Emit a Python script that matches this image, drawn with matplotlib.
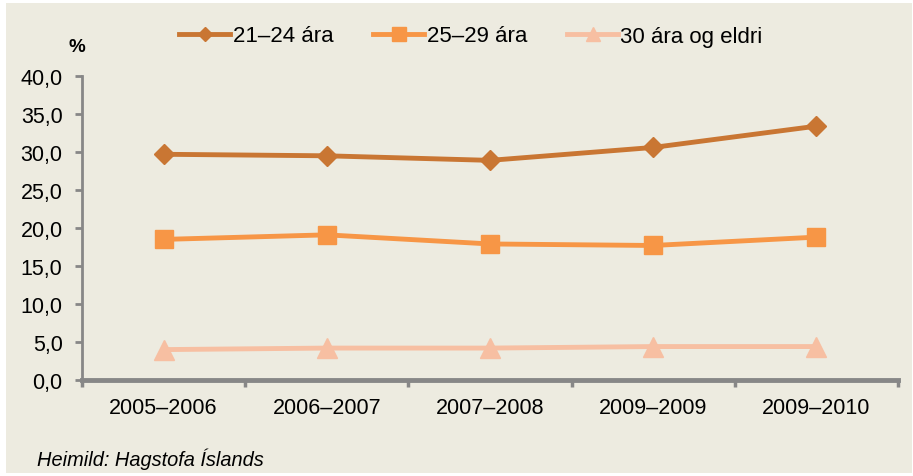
import numpy as np
import matplotlib.pyplot as plt
from matplotlib.patches import Rectangle

plt.rcParams['font.family'] = ['Liberation Sans', 'DejaVu Sans']

# Data
periods = ['2005–2006', '2006–2007', '2007–2008', '2009–2009', '2009–2010']
age_21_24 = [29.7, 29.5, 28.9, 30.6, 33.4]
age_25_29 = [18.5, 19.1, 17.9, 17.7, 18.8]
age_30_plus = [4.0, 4.2, 4.2, 4.4, 4.4]
series_labels = ['21–24 ára', '25–29 ára', '30 ára og eldri']
yticks = np.arange(0, 45, 5)

BG = '#EDEBE0'
AXIS = '#878787'

fig = plt.figure(figsize=(9.13, 4.77), dpi=100)
fig.patch.set_facecolor('white')
fig.patches.append(Rectangle((6 / 913, 3 / 477), 906 / 913, 470 / 477,
                             transform=fig.transFigure, facecolor=BG,
                             edgecolor='none', zorder=-10))

ax = fig.add_axes([82 / 913, 1 - 381 / 477, 816 / 913, 304 / 477])
ax.patch.set_alpha(0)

x = np.arange(len(periods))
ax.plot(x, age_21_24, color='#C97633', lw=3.5, marker='D', ms=10,
        label=series_labels[0], zorder=3, clip_on=False)
ax.plot(x, age_25_29, color='#F79646', lw=3.5, marker='s', ms=13,
        label=series_labels[1], zorder=3, clip_on=False)
ax.plot(x, age_30_plus, color='#F7BFA2', lw=3.5, marker='^', ms=14,
        label=series_labels[2], zorder=3, clip_on=False)

ax.set_xlim(-0.5, len(periods) - 0.5)
ax.set_ylim(0, 40)
ax.set_yticks(yticks)
ax.set_yticklabels([f'{v:.1f}'.replace('.', ',') for v in yticks], fontsize=15.5)

# category labels centred, ticks on the boundaries
ax.set_xticks(x)
ax.set_xticklabels(periods, fontsize=15.5)
ax.tick_params(axis='x', length=0, pad=12)
ax.set_xticks(np.arange(-0.5, len(periods)), minor=True)
ax.tick_params(axis='x', which='minor', length=5, width=2.5, color=AXIS)
ax.tick_params(axis='y', length=5, width=2, color=AXIS, pad=9)

for side in ['top', 'right']:
    ax.spines[side].set_visible(False)
ax.spines['left'].set_color(AXIS)
ax.spines['left'].set_linewidth(2)
ax.spines['bottom'].set_color(AXIS)
ax.spines['bottom'].set_linewidth(3.5)

fig.legend(loc='center', bbox_to_anchor=(471 / 913, 1 - 37 / 477), ncol=3,
           frameon=False, fontsize=16, handlelength=2.3, columnspacing=1.8,
           handletextpad=0.1, markerscale=0.75)

fig.text(77 / 913, 1 - 48 / 477, '%', fontsize=13.5, fontweight='bold',
         ha='center', va='center')
fig.text(37 / 913, 1 - 459 / 477, 'Heimild: Hagstofa Íslands', fontsize=14.4,
         style='italic', ha='left', va='center')

fig.savefig('out.png', dpi=100, facecolor=fig.get_facecolor())
